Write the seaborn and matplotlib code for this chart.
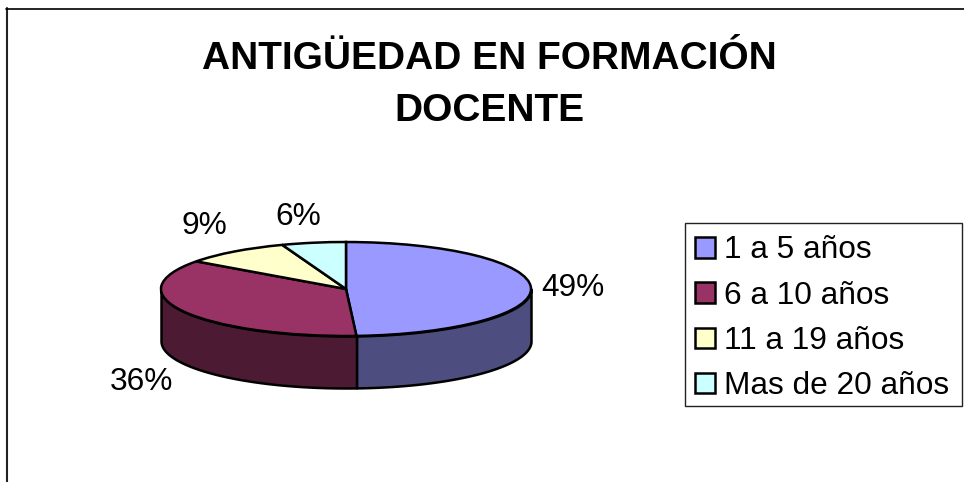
import numpy as np
import matplotlib
matplotlib.use('Agg')
import matplotlib.pyplot as plt
from matplotlib.lines import Line2D
from matplotlib.patches import Patch, Rectangle
import seaborn as sns

categories = ['1 a 5 años', '6 a 10 años', '11 a 19 años', 'Mas de 20 años']
values = [49.1, 35.9, 9.4, 5.6]
pct_labels = ['49%', '36%', '9%', '6%']
title = 'ANTIGÜEDAD EN FORMACIÓN\nDOCENTE'

W, H = 964, 482
sns.set_theme(style='white')
plt.rcParams['font.family'] = ['Liberation Sans', 'DejaVu Sans']

top_colors = sns.color_palette(['#9999FF', '#993366', '#FFFFCC', '#CCFFFF'])
side_colors = sns.color_palette(['#4D4D80', '#4D1A33', '#808066', '#668080'])

fig = plt.figure(figsize=(W / 100, H / 100), dpi=100, facecolor='white')


def fx(x):
    return x / W


def fy(y):
    return 1 - y / H


# pie ellipse is 370 x 94 px, wall is 52 px high
ry = 47
depth = 52 / ry
ax = fig.add_axes([fx(161), fy(388), 370 / W, (94 + 52) / H])
ax.axis('off')

# walls first, only the front half of the ring shows
edges = np.cumsum([0] + values) / sum(values) * 360
for i in range(len(values)):
    a = max(edges[i], 90)
    b = min(edges[i + 1], 270)
    if b <= a:
        continue
    t = np.radians(np.linspace(a, b, 120))
    ax.fill_between(np.sin(t), np.cos(t), np.cos(t) - depth, color=side_colors[i],
                    ec='black', lw=1.8, clip_on=False, zorder=1)

wedges, _ = ax.pie(values, colors=top_colors, startangle=90, counterclock=False, radius=1,
                   wedgeprops=dict(edgecolor='black', linewidth=1.8, clip_on=False),
                   frame=False)
for w in wedges:
    w.set_zorder(2)
ax.set_aspect('auto')
ax.set_xlim(-1, 1)
ax.set_ylim(-1 - depth, 1)

fig.text(fx(489), fy(85), title, ha='center', va='center', fontsize=28, fontweight='bold',
         color='black', linespacing=1.55)

label_pos = [(573, 288), (141, 382), (204, 226), (298, 217)]
for lab, (x, y) in zip(pct_labels, label_pos):
    fig.text(fx(x), fy(y), lab, ha='center', va='center', fontsize=22.8, color='black')

handles = [Patch(facecolor=c, edgecolor='black', linewidth=1.8) for c in top_colors]
leg = fig.legend(handles, categories, loc='upper left', bbox_to_anchor=(fx(685), fy(225)),
                 fontsize=22.8, frameon=False, labelcolor='black',
                 handlelength=0.62, handleheight=0.62, handletextpad=0.27, labelspacing=0.483,
                 borderpad=0.33, borderaxespad=0)
fig.add_artist(Rectangle((fx(685), fy(406)), 277 / W, 183 / H, transform=fig.transFigure,
                         facecolor='none', edgecolor='#222222', linewidth=1.0))

# only the left and top of the chart border are in frame
fig.add_artist(Line2D([fx(6.5), fx(6.5)], [fy(8), 0], color='#222222', lw=1.5))
fig.add_artist(Line2D([fx(6), 1], [fy(8.5), fy(8.5)], color='black', lw=1.2))

fig.savefig('out.png', dpi=100)
